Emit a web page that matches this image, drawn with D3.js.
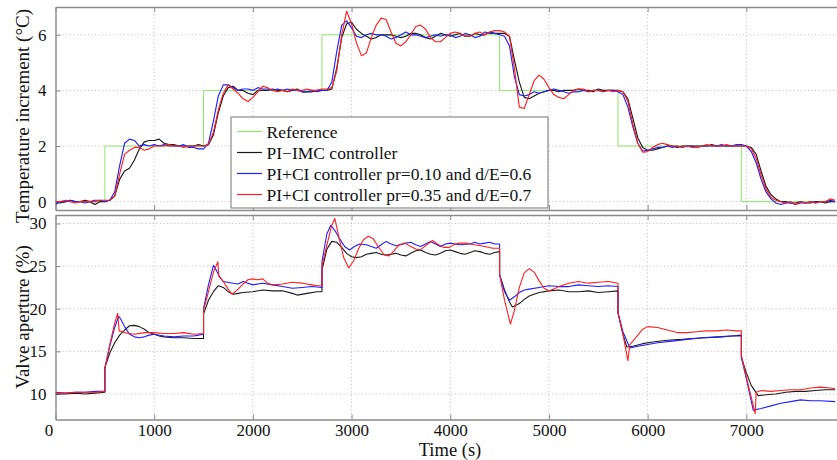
<!DOCTYPE html>
<html>
<head>
<meta charset="utf-8">
<script src="https://cdn.jsdelivr.net/npm/d3@7"></script>
<style>
  html, body { margin: 0; padding: 0; background: #fff; }
  svg { display: block; }
  text { font-family: "Liberation Serif", "Times New Roman", serif; fill: #111; }
</style>
</head>
<body>
<svg id="chart" width="837" height="460"></svg>
<script>
// ---------------- DATA ----------------
const seriesNames = ["Reference", "PI\u2212IMC controller",
  "PI+CI controller pr=0.10 and d/E=0.6", "PI+CI controller pr=0.35 and d/E=0.7"];
const xTicks = [0, 1000, 2000, 3000, 4000, 5000, 6000, 7000];
const tempTicks = [0, 2, 4, 6];
const valveTicks = [10, 15, 20, 25, 30];

// reference set-point (step times, values)
const refTimes  = [0, 500, 500, 1500, 1500, 2700, 2700, 4500, 4500, 5700, 5700, 6950, 6950, 7900];
const refValues = [0, 0, 2, 2, 4, 4, 6, 6, 4, 4, 2, 2, 0, 0];

// temperature samples every 50 s from 0 to 7900 s
const tempTimes = d3.range(0, 7901, 50);
const tempImc = [
  0.0,-0.05,0.0,0.05,0.0,0.0,0.05,0.0,-0.1,0.0,
  0.0,0.05,0.2,0.8,1.1,1.2,1.5,1.9,2.15,2.2,
  2.2,2.25,2.1,2.05,2.05,2.0,2.0,2.0,2.0,2.05,
  2.0,2.05,2.4,3.2,3.8,4.1,4.15,4.0,4.0,3.9,
  3.85,4.0,4.0,4.0,4.05,4.0,4.0,3.95,4.0,4.05,
  3.95,3.95,3.95,4.0,4.0,4.0,4.05,4.8,5.9,6.4,
  6.45,6.2,6.05,5.95,5.85,5.9,6.0,6.0,6.0,5.95,
  5.9,5.95,6.05,6.05,6.0,5.9,5.85,5.95,6.05,6.0,
  5.95,6.0,6.05,5.95,5.95,6.05,6.0,6.0,6.1,6.05,
  6.05,6.05,5.95,5.1,4.3,3.75,3.7,3.8,3.9,3.95,
  4.0,4.0,3.95,4.0,4.0,4.0,4.05,4.0,4.0,3.95,
  4.05,4.0,4.0,4.0,4.0,3.95,3.7,3.0,2.3,1.95,
  1.85,1.85,1.9,1.95,2.0,2.0,1.95,2.0,2.0,2.0,
  2.0,2.0,2.0,2.05,2.0,2.0,2.0,2.0,2.0,2.0,
  2.0,1.95,1.7,1.1,0.55,0.25,0.1,0.0,0.0,-0.05,
  -0.05,0.0,-0.05,-0.05,0.0,0.0,-0.05,0.0,0.0
];
const tempCi10 = [
  -0.1,0.0,0.0,0.05,0.0,0.0,-0.05,0.0,0.05,0.05,
  0.0,0.05,0.35,1.3,2.1,2.25,2.2,2.0,2.05,2.0,
  2.05,2.0,2.05,2.0,2.0,2.0,2.05,1.95,1.95,1.9,
  1.9,2.1,2.9,3.8,4.2,4.2,4.1,4.0,4.05,4.05,
  4.0,4.1,4.05,4.05,4.0,4.05,4.0,4.05,4.0,4.0,
  3.95,3.95,4.0,3.95,4.0,4.0,4.3,5.4,6.35,6.5,
  6.25,5.95,5.9,6.0,6.05,6.0,6.0,5.95,5.85,5.9,
  6.0,6.1,6.0,6.0,5.95,5.9,5.95,6.0,5.95,6.0,
  6.0,5.9,5.95,6.05,6.0,5.9,5.95,6.1,6.05,6.05,
  6.0,5.95,5.6,4.5,3.85,3.8,3.85,3.95,3.9,3.95,
  4.0,4.05,4.0,3.95,3.9,3.95,3.95,4.0,3.95,4.0,
  4.0,3.95,4.0,4.0,3.95,3.85,3.4,2.7,2.1,1.82,
  1.85,1.9,1.95,1.95,2.0,1.95,2.0,1.95,2.0,2.0,
  1.95,2.0,2.0,2.0,2.0,2.05,2.0,2.0,2.05,2.05,
  2.0,1.8,1.4,0.8,0.35,0.1,-0.05,-0.1,-0.05,-0.05,
  -0.1,-0.05,-0.05,0.0,-0.05,0.0,0.0,0.05,0.0
];
const tempCi35 = [
  0.0,0.0,0.05,0.0,-0.05,0.0,0.0,0.0,0.0,0.05,
  0.05,0.05,0.2,1.0,1.7,1.85,1.95,1.95,1.85,1.9,
  2.0,2.0,2.0,2.05,2.0,2.0,1.95,2.0,2.0,2.0,
  2.0,2.05,2.5,3.3,3.9,4.2,4.05,3.9,3.7,3.6,
  3.75,3.95,4.15,4.1,4.0,3.95,4.0,3.95,4.05,4.0,
  4.0,4.05,4.0,4.0,4.05,4.05,4.1,4.7,6.0,6.85,
  6.4,5.7,5.25,5.35,5.9,6.35,6.6,6.55,6.1,5.7,
  5.6,5.75,6.0,6.3,6.35,6.2,5.9,5.75,5.75,5.9,
  6.05,6.1,6.05,5.95,5.95,6.05,6.1,6.0,6.1,6.15,
  6.15,6.1,5.95,4.8,3.4,3.35,3.85,4.35,4.55,4.4,
  4.1,3.85,3.75,3.7,3.85,4.0,4.05,4.05,3.95,4.0,
  4.0,3.95,4.0,3.95,4.0,3.95,3.6,2.8,2.1,1.78,
  1.8,1.95,2.05,2.1,2.05,2.0,2.0,1.95,2.0,1.95,
  1.95,2.0,2.05,2.0,2.0,2.0,2.05,2.0,2.0,2.0,
  2.0,1.9,1.55,0.95,0.45,0.15,0.05,0.0,-0.05,0.0,
  -0.1,0.0,-0.05,0.0,-0.05,0.0,0.0,0.1,0.05
];

// valve aperture, [time s, %]
const valveImc = [[0,10.0],[100,10.0],[200,10.1],[300,10.0],[400,10.1],[500,10.2],[500,13.1],[550,14.8],[600,16.0],[650,16.9],[700,17.5],[750,18.0],[800,18.05],[850,17.9],[900,17.6],[950,17.2],[1000,17.0],[1050,16.8],[1100,16.7],[1200,16.6],[1300,16.6],[1400,16.5],[1500,16.5],[1500,19.4],[1550,21.0],[1600,22.0],[1650,22.7],[1700,22.5],[1750,22.0],[1800,21.7],[1850,21.8],[1900,21.9],[2000,22.0],[2100,22.2],[2200,22.1],[2300,22.1],[2400,21.8],[2450,21.6],[2550,21.8],[2650,22.0],[2700,22.0],[2700,24.5],[2750,27.0],[2800,27.9],[2850,27.8],[2900,27.2],[2950,26.5],[3000,26.1],[3050,26.0],[3100,26.1],[3150,26.4],[3200,26.5],[3250,26.6],[3300,26.4],[3350,26.3],[3400,26.4],[3450,26.5],[3500,26.3],[3550,26.2],[3600,26.5],[3650,26.8],[3700,26.9],[3750,26.6],[3800,26.4],[3850,26.3],[3900,26.5],[3950,26.8],[4000,26.9],[4050,26.7],[4100,26.5],[4150,26.4],[4200,26.6],[4250,26.8],[4300,26.7],[4350,26.5],[4400,26.4],[4450,26.6],[4500,26.7],[4500,24.0],[4550,22.2],[4600,20.8],[4630,20.2],[4700,20.6],[4750,21.1],[4800,21.5],[4850,21.7],[4900,21.9],[5000,22.1],[5100,22.2],[5200,22.0],[5300,22.0],[5400,22.1],[5500,21.9],[5600,22.0],[5700,22.1],[5700,19.5],[5750,17.0],[5790,15.5],[5850,15.6],[5950,15.9],[6050,16.1],[6200,16.3],[6350,16.4],[6450,16.5],[6600,16.6],[6750,16.7],[6850,16.8],[6950,16.9],[6950,14.3],[7000,12.5],[7050,11.0],[7120,9.8],[7200,9.9],[7300,10.0],[7400,10.2],[7500,10.3],[7600,10.3],[7700,10.4],[7800,10.5],[7900,10.5]];
const valveCi10 = [[0,10.2],[100,10.1],[200,10.2],[300,10.2],[400,10.3],[500,10.3],[500,13.0],[550,15.6],[600,17.8],[640,19.1],[660,18.8],[700,17.9],[750,17.0],[800,16.7],[850,16.6],[900,16.7],[950,16.9],[1000,17.0],[1100,16.8],[1200,16.7],[1300,16.8],[1400,16.8],[1450,16.9],[1500,17.0],[1500,20.0],[1550,22.8],[1600,25.1],[1630,24.5],[1660,23.8],[1700,23.2],[1800,23.0],[1850,22.9],[1900,23.2],[1950,23.0],[2000,22.8],[2100,23.0],[2200,22.8],[2300,22.6],[2400,22.4],[2500,22.5],[2600,22.6],[2700,22.5],[2700,25.5],[2750,28.8],[2790,29.8],[2830,29.2],[2880,28.2],[2930,27.3],[2980,26.9],[3030,27.3],[3080,27.6],[3150,27.5],[3200,27.3],[3250,27.1],[3300,27.5],[3350,27.9],[3400,27.6],[3450,27.4],[3500,27.5],[3550,27.7],[3600,27.8],[3650,27.5],[3700,27.3],[3750,27.6],[3800,27.9],[3850,27.6],[3900,27.3],[3950,27.6],[4000,27.7],[4050,27.6],[4100,27.5],[4200,27.6],[4250,27.8],[4300,27.6],[4350,27.7],[4400,27.8],[4450,27.6],[4500,27.6],[4500,24.0],[4550,22.0],[4600,21.0],[4650,21.4],[4700,21.9],[4750,22.2],[4800,22.3],[4900,22.5],[5000,22.7],[5100,22.6],[5200,22.6],[5300,22.8],[5400,22.7],[5500,22.6],[5600,22.7],[5700,22.6],[5700,19.5],[5750,17.3],[5820,15.4],[5900,15.6],[6000,15.8],[6100,16.0],[6250,16.2],[6400,16.4],[6550,16.6],[6700,16.7],[6850,16.8],[6950,16.8],[6950,14.3],[7000,11.8],[7070,8.1],[7150,8.3],[7250,8.6],[7350,8.9],[7450,9.1],[7550,9.3],[7650,9.2],[7750,9.2],[7900,9.1]];
const valveCi35 = [[0,10.1],[100,10.1],[200,10.2],[300,10.2],[400,10.2],[500,10.3],[500,13.0],[550,15.8],[600,18.3],[630,19.45],[645,17.4],[700,17.2],[750,17.1],[800,17.0],[900,17.2],[1000,17.2],[1100,17.1],[1200,17.1],[1300,17.2],[1400,17.0],[1500,17.1],[1500,19.8],[1550,22.0],[1600,24.3],[1645,25.5],[1655,23.8],[1700,23.2],[1750,22.3],[1790,21.7],[1850,22.3],[1900,22.9],[1950,23.4],[2000,23.5],[2050,23.4],[2100,23.5],[2150,23.0],[2200,22.8],[2300,22.9],[2400,23.1],[2500,23.0],[2600,22.8],[2650,22.7],[2700,22.7],[2700,25.0],[2750,27.5],[2800,29.8],[2830,30.6],[2870,28.5],[2920,26.0],[2970,24.8],[3020,25.6],[3070,27.0],[3120,28.1],[3170,28.5],[3220,28.2],[3270,27.3],[3330,26.3],[3380,26.2],[3430,26.8],[3480,27.5],[3540,27.7],[3600,27.3],[3650,27.0],[3700,26.9],[3750,27.4],[3820,28.0],[3870,27.6],[3930,27.2],[3990,27.2],[4050,27.6],[4100,27.7],[4160,27.7],[4250,27.5],[4350,27.3],[4430,27.1],[4500,27.1],[4500,24.0],[4550,21.0],[4610,18.2],[4650,19.8],[4700,22.5],[4750,24.2],[4800,24.7],[4850,24.3],[4900,23.3],[4950,22.4],[5000,22.1],[5050,22.3],[5100,22.6],[5200,23.0],[5300,23.2],[5400,23.0],[5500,23.1],[5600,23.2],[5650,23.1],[5700,23.0],[5700,19.5],[5750,17.0],[5800,13.9],[5820,15.8],[5880,16.6],[5950,17.6],[6000,17.9],[6100,17.8],[6200,17.5],[6300,17.2],[6400,17.2],[6500,17.3],[6600,17.4],[6700,17.4],[6800,17.5],[6900,17.4],[6950,17.4],[6950,14.5],[7000,12.0],[7090,7.7],[7100,10.2],[7150,10.4],[7250,10.3],[7350,10.4],[7450,10.5],[7550,10.5],[7650,10.7],[7750,10.8],[7850,10.7],[7900,10.6]];

// ---------------- DRAWING ----------------
const colors = ["#8de86a", "#1a1a1a", "#1f1fff", "#ff1f1f"];
const svg = d3.select("#chart");
const frame = "#8a8a8a";

const x = d3.scaleLinear().domain([0, 8000]).range([55.5, 845]);
const yTop = d3.scaleLinear().domain([-0.3, 7]).range([210, 7]);
const yBot = d3.scaleLinear().domain([7, 31]).range([419.5, 215]);

function panel(id, y, yTicks) {
  const [y0, y1] = y.range(); // bottom, top
  const [x0, x1] = x.range();
  const g = svg.append("g");
  g.append("clipPath").attr("id", id).append("rect")
    .attr("x", x0).attr("y", y1).attr("width", x1 - x0).attr("height", y0 - y1);
  // grid
  g.append("g").selectAll("line").data(xTicks.filter(t => t > 0)).join("line")
    .attr("x1", d => x(d)).attr("x2", d => x(d)).attr("y1", y1).attr("y2", y0)
    .attr("stroke", "#b8b8b8").attr("stroke-width", 1).attr("stroke-dasharray", "1,2.6");
  g.append("g").selectAll("line").data(yTicks).join("line")
    .attr("x1", x0).attr("x2", x1).attr("y1", d => y(d)).attr("y2", d => y(d))
    .attr("stroke", "#b8b8b8").attr("stroke-width", 1).attr("stroke-dasharray", "1,2.6");
  // axes with inward ticks
  const axL = d3.axisLeft(y).tickValues(yTicks).tickSizeInner(-5).tickSizeOuter(0).tickPadding(9);
  const gl = g.append("g").attr("transform", `translate(${x0},0)`).call(axL);
  gl.select(".domain").attr("stroke", frame).attr("stroke-width", 1.4);
  gl.selectAll(".tick line").attr("stroke", frame);
  gl.selectAll(".tick text").attr("font-size", 17).attr("fill", "#111");
  const axT = d3.axisTop(x).tickValues(xTicks).tickSizeInner(-5).tickSizeOuter(0).tickFormat("");
  const gt = g.append("g").attr("transform", `translate(0,${y1})`).call(axT);
  gt.select(".domain").attr("stroke", frame).attr("stroke-width", 1.4);
  gt.selectAll(".tick line").attr("stroke", frame);
  return {g, x0, x1, y0, y1};
}

const pTop = panel("clipTop", yTop, tempTicks);
const pBot = panel("clipBot", yBot, valveTicks);

// bottom x axes
const axBTop = d3.axisBottom(x).tickValues(xTicks).tickSizeInner(-5).tickSizeOuter(0).tickFormat("");
const gbt = svg.append("g").attr("transform", `translate(0,${pTop.y0})`).call(axBTop);
gbt.select(".domain").attr("stroke", frame).attr("stroke-width", 1.4);
gbt.selectAll(".tick line").attr("stroke", frame);

const axBB = d3.axisBottom(x).tickValues(xTicks).tickSizeInner(-5).tickSizeOuter(0).tickPadding(4).tickFormat(d3.format("d"));
const gbb = svg.append("g").attr("transform", `translate(0,${pBot.y0})`).call(axBB);
gbb.select(".domain").attr("stroke", frame).attr("stroke-width", 1.4);
gbb.selectAll(".tick line").attr("stroke", frame);
gbb.selectAll(".tick text").attr("font-size", 17).attr("fill", "#111");
gbb.selectAll(".tick text").filter(d => d === 0).attr("dx", -7);

// lines
const lineTop = d3.line().x(d => x(d[0])).y(d => yTop(d[1]));
const lineBot = d3.line().x(d => x(d[0])).y(d => yBot(d[1]));
const refPts = refTimes.map((t, i) => [t, refValues[i]]);
const topSeries = [refPts,
  tempTimes.map((t, i) => [t, tempImc[i]]),
  tempTimes.map((t, i) => [t, tempCi10[i]]),
  tempTimes.map((t, i) => [t, tempCi35[i]])];

const gTopLines = svg.append("g").attr("clip-path", "url(#clipTop)");
topSeries.forEach((s, i) => {
  gTopLines.append("path").attr("d", lineTop(s)).attr("fill", "none")
    .attr("stroke", colors[i]).attr("stroke-width", i === 0 ? 1 : 1.15).attr("stroke-linejoin", "round");
});
const gBotLines = svg.append("g").attr("clip-path", "url(#clipBot)");
[valveImc, valveCi10, valveCi35].forEach((s, i) => {
  gBotLines.append("path").attr("d", lineBot(s)).attr("fill", "none")
    .attr("stroke", colors[i + 1]).attr("stroke-width", 1.1).attr("stroke-linejoin", "round");
});

// axis labels
svg.append("text").attr("transform", "translate(29,116) rotate(-90)")
  .attr("text-anchor", "middle").attr("font-size", 19).text("Temperature increment (\u00B0C)");
svg.append("text").attr("transform", "translate(29,317) rotate(-90)")
  .attr("text-anchor", "middle").attr("font-size", 19).text("Valve aperture (%)");
svg.append("text").attr("x", 450).attr("y", 456)
  .attr("text-anchor", "middle").attr("font-size", 18.5).text("Time (s)");

// legend
const leg = svg.append("g");
leg.append("rect").attr("x", 231).attr("y", 117).attr("width", 317).attr("height", 91)
  .attr("fill", "#fff").attr("stroke", frame).attr("stroke-width", 1.2);
seriesNames.forEach((name, i) => {
  const cy = 131.5 + i * 21;
  leg.append("line").attr("x1", 237).attr("x2", 262).attr("y1", cy).attr("y2", cy)
    .attr("stroke", colors[i]).attr("stroke-width", 1.2);
  leg.append("text").attr("x", 266.5).attr("y", cy).attr("dy", "0.35em")
    .attr("font-size", 17.5).text(name);
});
</script>
</body>
</html>
